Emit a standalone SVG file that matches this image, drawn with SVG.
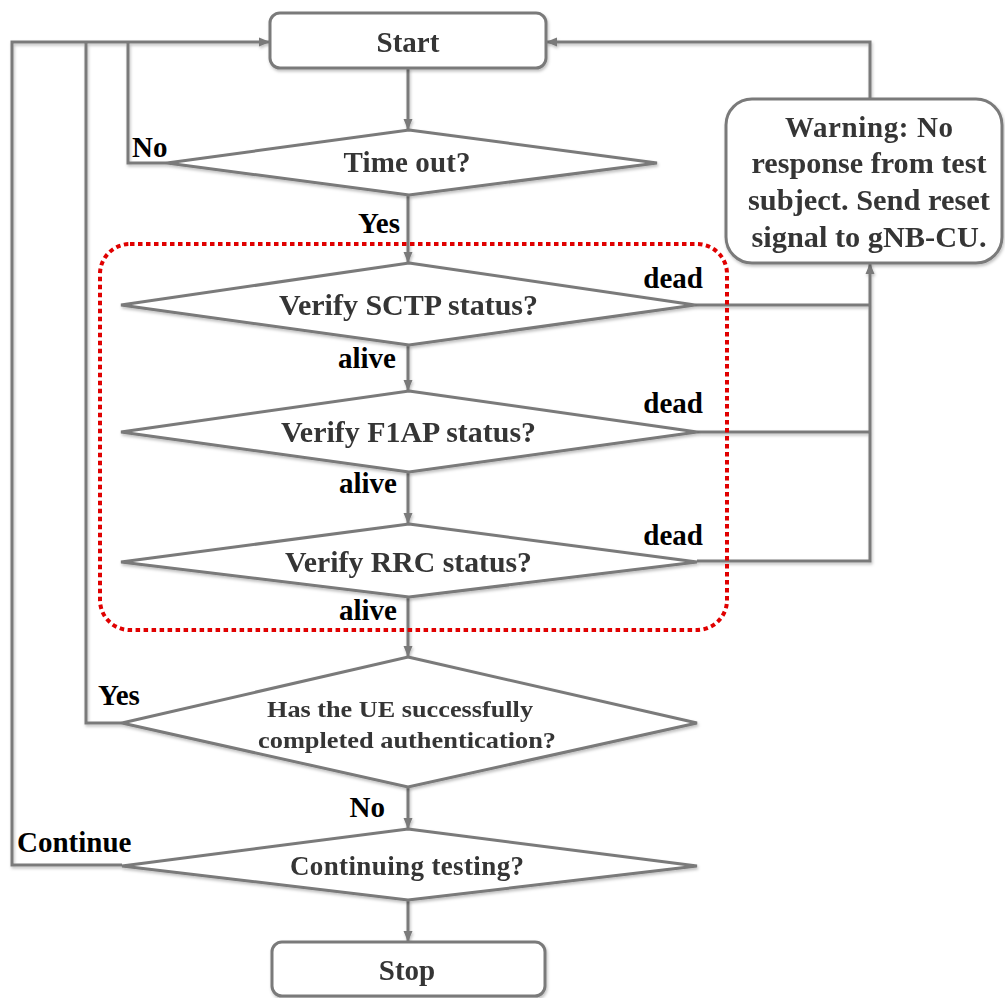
<svg xmlns="http://www.w3.org/2000/svg" width="1005" height="998" viewBox="0 0 1005 998">
  <defs>
    <marker id="arrow" markerUnits="userSpaceOnUse" markerWidth="12" markerHeight="12" viewBox="0 0 12 12" refX="11" refY="6" orient="auto">
      <path d="M0,1.5 L11,6 L0,10.5 Z" fill="#7a7a7a"/>
    </marker>
    <filter id="soft" x="-10%" y="-10%" width="120%" height="130%">
      <feDropShadow dx="1" dy="2" stdDeviation="1.5" flood-color="#000" flood-opacity="0.25"/>
    </filter>
  </defs>
  <style>
    .shape { fill: #ffffff; stroke: #7a7a7a; stroke-width: 3; stroke-linejoin: miter; }
    .link { fill: none; stroke: #7a7a7a; stroke-width: 3; }
    .node-text { font-family: "Liberation Serif", "Times New Roman", serif; font-weight: bold; fill: #363636; text-anchor: middle; }
    .label { font-family: "Liberation Serif", "Times New Roman", serif; font-weight: bold; fill: #000000; font-size: 29px; }
    .group-box { fill: none; stroke: #e00000; stroke-width: 4; stroke-dasharray: 4.5 3.5; }
  </style>

  <rect width="1005" height="998" fill="#ffffff"/>

  <!-- connectors -->
  <g id="connectors" filter="url(#soft)">
    <!-- main vertical flow -->
    <line class="link" x1="408" y1="68" x2="408" y2="130" marker-end="url(#arrow)"/>
    <line class="link" x1="408" y1="195" x2="408" y2="263" marker-end="url(#arrow)"/>
    <line class="link" x1="408" y1="345" x2="408" y2="391" marker-end="url(#arrow)"/>
    <line class="link" x1="408" y1="472" x2="408" y2="524" marker-end="url(#arrow)"/>
    <line class="link" x1="408" y1="597" x2="408" y2="657" marker-end="url(#arrow)"/>
    <line class="link" x1="408" y1="787" x2="408" y2="829" marker-end="url(#arrow)"/>
    <line class="link" x1="408" y1="900" x2="408" y2="942" marker-end="url(#arrow)"/>
    <!-- loops back to Start -->
    <polyline class="link" points="167,163 128,163 128,42"/>
    <polyline class="link" points="122,723 86,723 86,42"/>
    <polyline class="link" points="122,865 12,865 12,42 270,42" marker-end="url(#arrow)"/>
    <!-- dead branches to warning -->
    <polyline class="link" points="695,305 870,305"/>
    <polyline class="link" points="697,432 870,432"/>
    <polyline class="link" points="697,561 870,561 870,263" marker-end="url(#arrow)"/>
    <!-- warning back to Start -->
    <polyline class="link" points="870,99 870,42 546,42" marker-end="url(#arrow)"/>
  </g>

  <!-- dotted grouping of status checks -->
  <rect id="status-checks" class="group-box" x="100" y="244" width="627" height="386" rx="30" ry="30"/>

  <g id="start" filter="url(#soft)">
    <rect class="shape" x="270" y="13" width="276" height="55" rx="10" ry="10"/>
    <text class="node-text" x="408" y="52" font-size="29">Start</text>
  </g>

  <g id="timeout" filter="url(#soft)">
    <polygon class="shape" points="409,130 657,163 409,195 167,163"/>
    <text class="node-text" x="407" y="172" font-size="29" textLength="127" lengthAdjust="spacing">Time out?</text>
  </g>

  <g id="sctp" filter="url(#soft)">
    <polygon class="shape" points="409,263 695,305 409,345 121,305"/>
    <text class="node-text" x="408.5" y="315" font-size="29" textLength="259" lengthAdjust="spacingAndGlyphs">Verify SCTP status?</text>
  </g>

  <g id="f1ap" filter="url(#soft)">
    <polygon class="shape" points="409,391 697,432 409,472 121,432"/>
    <text class="node-text" x="408.5" y="442" font-size="29" textLength="255" lengthAdjust="spacingAndGlyphs">Verify F1AP status?</text>
  </g>

  <g id="rrc" filter="url(#soft)">
    <polygon class="shape" points="409,524 697,562 409,597 121,562"/>
    <text class="node-text" x="408.5" y="572" font-size="29" textLength="247" lengthAdjust="spacingAndGlyphs">Verify RRC status?</text>
  </g>

  <g id="auth" filter="url(#soft)">
    <polygon class="shape" points="408,657 697,723 408,787 122,723"/>
    <text class="node-text" x="400" y="717" font-size="24" textLength="266" lengthAdjust="spacingAndGlyphs">Has the UE successfully</text>
    <text class="node-text" x="407" y="748" font-size="24" textLength="298" lengthAdjust="spacingAndGlyphs">completed authentication?</text>
  </g>

  <g id="continue-testing" filter="url(#soft)">
    <polygon class="shape" points="408,829 697,866 408,900 122,866"/>
    <text class="node-text" x="407" y="875" font-size="27" textLength="234" lengthAdjust="spacing">Continuing testing?</text>
  </g>

  <g id="stop" filter="url(#soft)">
    <rect class="shape" x="272" y="942" width="273" height="54" rx="10" ry="10"/>
    <text class="node-text" x="407" y="980" font-size="29">Stop</text>
  </g>

  <g id="warning" filter="url(#soft)">
    <rect class="shape" x="726" y="99" width="276" height="164" rx="26" ry="26"/>
    <text class="node-text" x="869" y="137" font-size="29" textLength="168" lengthAdjust="spacing">Warning: No</text>
    <text class="node-text" x="869" y="173" font-size="29" textLength="235" lengthAdjust="spacingAndGlyphs">response from test</text>
    <text class="node-text" x="869" y="210" font-size="29" textLength="242" lengthAdjust="spacingAndGlyphs">subject. Send reset</text>
    <text class="node-text" x="869" y="247" font-size="29" textLength="235" lengthAdjust="spacingAndGlyphs">signal to gNB-CU.</text>
  </g>

  <!-- branch labels -->
  <g id="labels">
    <text class="label" x="132" y="157">No</text>
    <text class="label" x="400" y="233" text-anchor="end">Yes</text>
    <text class="label" x="703" y="288" text-anchor="end">dead</text>
    <text class="label" x="703" y="413" text-anchor="end">dead</text>
    <text class="label" x="703" y="545" text-anchor="end">dead</text>
    <text class="label" x="396" y="368" text-anchor="end">alive</text>
    <text class="label" x="397" y="493" text-anchor="end">alive</text>
    <text class="label" x="397" y="620" text-anchor="end">alive</text>
    <text class="label" x="98" y="705">Yes</text>
    <text class="label" x="385" y="817" text-anchor="end">No</text>
    <text class="label" x="17" y="852">Continue</text>
  </g>
</svg>
